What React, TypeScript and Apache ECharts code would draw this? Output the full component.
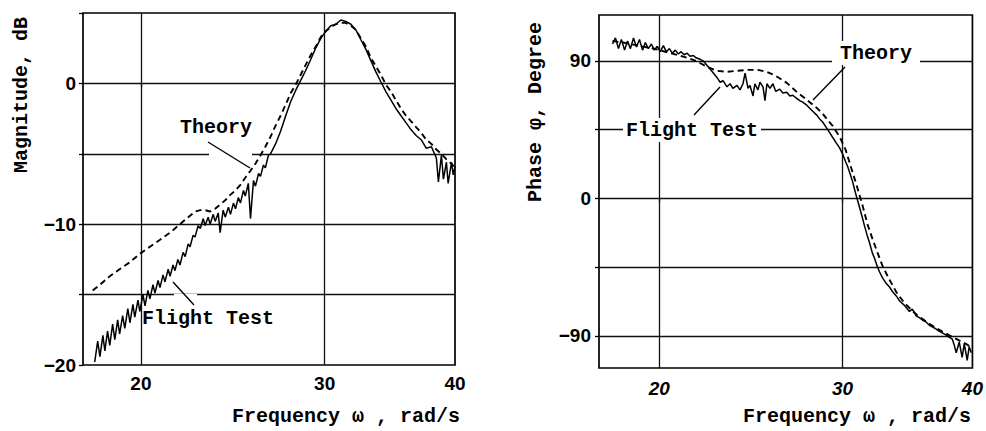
import { useEffect, useRef } from 'react';
import * as echarts from 'echarts';

// Magnitude, flight test record: frequency (rad/s) and gain (dB)
const magTestFreq = [18.06, 18.18, 18.27, 18.39, 18.47, 18.58, 18.67, 18.79, 18.88, 19.0, 19.08, 19.21, 19.3, 19.43, 19.52, 19.65, 19.73, 19.87, 19.95, 20.09, 20.18, 20.31, 20.4, 20.54, 20.63, 20.77, 20.86, 21.0, 21.09, 21.24, 21.33, 21.47, 21.56, 21.7, 21.8, 21.95, 22.05, 22.2, 22.29, 22.44, 22.54, 22.69, 22.8, 22.95, 23.04, 23.2, 23.3, 23.46, 23.56, 23.72, 23.82, 23.98, 24.09, 24.26, 24.37, 24.53, 24.64, 24.8, 24.91, 25.08, 25.18, 25.35, 25.47, 25.64, 25.75, 25.93, 26.04, 26.21, 26.32, 26.5, 26.62, 26.92, 27.22, 27.53, 27.83, 28.14, 28.45, 28.76, 29.09, 29.41, 29.75, 30.07, 30.41, 30.75, 31.09, 31.43, 31.79, 32.14, 32.5, 32.87, 33.23, 33.6, 33.97, 34.35, 34.74, 35.12, 35.51, 35.91, 36.31, 36.71, 37.12, 37.54, 37.97, 38.39, 38.56, 38.82, 38.99, 39.25, 39.4, 39.69, 39.84, 40.0];
const magTestDb = [-19.8, -18.3, -19.4, -17.9, -19.0, -17.6, -18.6, -17.1, -18.2, -16.8, -17.8, -16.5, -17.4, -16.0, -17.0, -15.7, -16.6, -15.4, -16.2, -15.0, -15.8, -14.7, -15.3, -14.3, -14.9, -14.0, -14.5, -13.6, -14.1, -13.2, -13.7, -12.9, -13.3, -12.5, -12.9, -12.0, -12.3, -11.4, -11.6, -10.8, -10.9, -10.1, -10.3, -9.6, -10.1, -9.5, -10.0, -9.3, -9.8, -9.2, -10.6, -9.0, -9.5, -8.8, -9.3, -8.5, -8.9, -8.1, -8.5, -7.6, -8.0, -7.1, -9.6, -6.9, -7.3, -6.4, -6.6, -5.8, -6.0, -5.1, -5.0, -4.3, -3.4, -2.3, -1.3, -0.5, 0.2, 0.9, 1.7, 2.5, 3.2, 3.7, 4.1, 4.2, 4.5, 4.4, 4.2, 3.8, 3.1, 2.4, 1.6, 0.8, 0.1, -0.6, -1.2, -1.8, -2.3, -2.8, -3.3, -3.7, -4.0, -4.6, -4.5, -5.3, -7.0, -5.1, -6.8, -5.6, -7.1, -5.6, -6.5, -5.9];

// Magnitude, theoretical model
const magTheoryFreq = [17.98, 18.27, 18.67, 19.08, 19.52, 19.95, 20.4, 20.86, 21.33, 21.8, 22.2, 22.54, 22.8, 23.04, 23.3, 23.56, 23.82, 24.09, 24.37, 24.64, 24.91, 25.18, 25.47, 25.75, 26.04, 26.32, 26.62, 26.92, 27.22, 27.53, 27.83, 28.14, 28.45, 28.76, 29.09, 29.41, 29.75, 30.07, 30.41, 30.75, 31.09, 31.43, 31.79, 32.14, 32.5, 32.87, 33.23, 33.6, 33.97, 34.35, 34.74, 35.12, 35.51, 35.91, 36.31, 36.71, 37.12, 37.54, 37.97, 38.39, 38.82, 39.25, 39.69, 40.0];
const magTheoryDb = [-14.7, -14.3, -13.7, -13.2, -12.7, -12.1, -11.6, -11.1, -10.6, -10.0, -9.5, -9.1, -9.0, -9.0, -9.1, -8.9, -8.6, -8.3, -7.9, -7.6, -7.2, -6.7, -6.2, -5.7, -5.1, -4.5, -3.8, -3.0, -2.3, -1.5, -0.7, -0.1, 0.6, 1.3, 2.0, 2.6, 3.3, 3.7, 4.0, 4.2, 4.3, 4.3, 4.1, 3.8, 3.2, 2.6, 1.8, 1.2, 0.6, -0.1, -0.6, -1.2, -1.8, -2.3, -2.7, -3.1, -3.5, -4.0, -4.3, -4.7, -5.0, -5.4, -5.7, -6.0];

// Phase, flight test record (degrees)
const phaseTestFreq = [18.03, 18.15, 18.27, 18.39, 18.52, 18.64, 18.76, 18.89, 19.01, 19.14, 19.27, 19.39, 19.52, 19.65, 19.78, 19.91, 20.04, 20.18, 20.31, 20.45, 20.58, 20.72, 20.86, 20.99, 21.13, 21.27, 21.41, 21.56, 21.7, 21.89, 22.04, 22.23, 22.48, 22.73, 22.88, 23.03, 23.23, 23.39, 23.54, 23.75, 23.91, 24.07, 24.18, 24.34, 24.44, 24.61, 24.71, 24.88, 24.99, 25.16, 25.27, 25.38, 25.55, 25.72, 25.88, 26.11, 26.29, 26.52, 26.7, 26.87, 27.11, 27.29, 27.47, 27.72, 27.9, 28.09, 28.34, 28.52, 28.71, 28.97, 29.16, 29.35, 29.61, 29.81, 30.01, 30.21, 30.34, 30.48, 30.68, 30.81, 30.95, 31.16, 31.36, 31.5, 31.71, 31.85, 32.06, 32.2, 32.42, 32.56, 32.78, 33.0, 33.29, 33.51, 33.81, 34.03, 34.41, 34.79, 35.02, 35.33, 35.57, 35.88, 36.12, 36.36, 36.6, 36.92, 37.17, 37.42, 37.75, 38.0, 38.25, 38.42, 38.59, 38.85, 39.1, 39.28, 39.54, 39.71, 39.89];
const phaseTestDeg = [101, 105, 98, 104, 97, 103, 98, 105, 99, 104, 97, 102, 98, 101, 97, 99.5, 96, 100, 96, 98, 95, 97, 94.5, 96, 94, 95, 93, 93.5, 92, 91, 90, 87, 83, 79, 76, 77, 73, 75, 72, 74, 71, 75, 82, 72, 74, 67, 75, 71, 76, 73, 64, 75, 72, 75, 70, 71.5, 69, 69.5, 67, 67.5, 65.5, 64, 63, 61, 59, 57, 54.5, 52, 50, 46, 43, 40, 36, 33, 29, 24, 21, 17, 11, 6, 1, -6, -13, -18, -25, -29, -36, -39, -45, -48, -52, -55, -58, -61, -64, -67, -70, -74, -72.5, -77, -78, -80, -81, -83, -84, -85.5, -87, -88, -89.5, -91, -92, -96, -101, -94, -104, -95, -106, -97, -101];

// Phase, theoretical model
const phaseTheoryFreq = [18.03, 18.52, 19.14, 19.78, 20.45, 21.13, 21.7, 22.23, 22.73, 23.23, 23.75, 24.34, 24.88, 25.38, 25.88, 26.52, 27.11, 27.72, 28.34, 28.71, 28.97, 29.35, 29.81, 30.21, 30.68, 30.95, 31.36, 31.71, 32.06, 32.42, 32.78, 33.29, 33.81, 34.41, 35.33, 36.36, 37.42, 38.42, 39.54, 39.89];
const phaseTheoryDeg = [103, 101.8, 99.8, 97.9, 95.2, 92.6, 90, 86, 83.5, 82.8, 83.5, 84.1, 84.1, 82.8, 80.2, 75.6, 69.7, 64.5, 59.2, 55.5, 52, 47.5, 40.3, 31.8, 17, 8.8, -4.5, -17, -26.5, -35.5, -44.2, -53.3, -61.5, -68.5, -76, -82.1, -87.2, -91.3, -95.7, -97.5];

// Axis ticks, labels and grid lines
const freqLabels = [20, 30, 40];
const freqGrid = [20, 30];
const magGrid = [-15, -10, -5, 0];
const phaseGrid = [-90, -45, 0, 45, 90];
const phaseLabels = [-90, 0, 90];

const MONO = '"Liberation Mono", "DejaVu Sans Mono", monospace';
const SANS = '"Liberation Sans", Arial, sans-serif';
const INK = '#000';

const pairs = (xs: number[], ys: number[]) => xs.map((x, i) => [x, ys[i]]);
const signed = (v: number) => String(v).replace('-', '\u2212');

function freqAxis(gridIndex: number, min: number, italic: boolean) {
  return {
    type: 'log',
    logBase: 10,
    gridIndex,
    min,
    max: 40,
    axisLine: { show: false },
    splitLine: { show: false },
    minorTick: { show: false },
    axisTick: { show: true, customValues: freqGrid, length: 4, lineStyle: { color: INK, width: 1.3 } },
    axisLabel: {
      customValues: freqLabels,
      formatter: (v: number) => String(Math.round(v)),
      fontFamily: SANS,
      fontSize: 19,
      fontWeight: 'bold',
      fontStyle: italic ? 'italic' : 'normal',
      color: INK,
      margin: italic ? 11 : 9,
    },
  };
}

function gridLines(axisIndex: number, yValues: number[]) {
  return {
    type: 'line',
    xAxisIndex: axisIndex,
    yAxisIndex: axisIndex,
    data: [],
    silent: true,
    z: 1,
    markLine: {
      silent: true,
      z: 1,
      symbol: ['none', 'none'],
      label: { show: false },
      emphasis: { disabled: true },
      lineStyle: { color: '#111', width: 1.3, type: 'solid' },
      data: [...freqGrid.map((v) => ({ xAxis: v })), ...yValues.map((v) => ({ yAxis: v }))],
    },
  };
}

function curve(axisIndex: number, data: number[][], dashed: boolean) {
  return {
    type: 'line',
    xAxisIndex: axisIndex,
    yAxisIndex: axisIndex,
    data,
    z: 3,
    silent: true,
    showSymbol: false,
    symbol: 'none',
    lineStyle: dashed
      ? { color: INK, width: 1.9, type: [6, 4] }
      : { color: INK, width: 1.5, type: 'solid' },
  };
}

const titleStyle = { fontFamily: MONO, fontSize: 20, fontWeight: 'bold', fill: INK, align: 'center', verticalAlign: 'middle' };

function label(text: string, x: number, y: number, opts: any = {}) {
  return { type: 'text', x, y, z: 10, silent: true, rotation: opts.rotation || 0, style: { ...titleStyle, text, ...(opts.style || {}) } };
}

function leader(x1: number, y1: number, x2: number, y2: number) {
  return { type: 'line', z: 10, silent: true, shape: { x1, y1, x2, y2 }, style: { stroke: INK, lineWidth: 1.4 } };
}

function gap(x: number, y: number, width: number) {
  return { type: 'rect', z: 2, silent: true, shape: { x, y: y - 2, width, height: 4 }, style: { fill: '#fff' } };
}

const option = {
  animation: false,
  grid: [
    { left: 83, top: 13, width: 372, height: 352, show: true, borderColor: INK, borderWidth: 1.7, backgroundColor: 'transparent' },
    { left: 599, top: 15, width: 374, height: 353, show: true, borderColor: INK, borderWidth: 1.7, backgroundColor: 'transparent' },
  ],
  xAxis: [freqAxis(0, 17.6, false), freqAxis(1, 17.5, true)],
  yAxis: [
    {
      type: 'value',
      gridIndex: 0,
      min: -20,
      max: 5,
      interval: 5,
      axisLine: { show: false },
      splitLine: { show: false },
      axisTick: { show: true, length: 4, lineStyle: { color: INK, width: 1.3 } },
      axisLabel: {
        formatter: (v: number) => (v % 10 === 0 ? signed(v) : ''),
        fontFamily: SANS,
        fontSize: 19,
        fontWeight: 'bold',
        color: INK,
        margin: 7,
      },
    },
    {
      type: 'value',
      gridIndex: 1,
      min: -111,
      max: 120,
      axisLine: { show: false },
      splitLine: { show: false },
      axisTick: { show: true, customValues: phaseGrid, length: 4, lineStyle: { color: INK, width: 1.3 } },
      axisLabel: {
        customValues: phaseLabels,
        formatter: (v: number) => signed(v),
        fontFamily: SANS,
        fontSize: 19,
        fontWeight: 'bold',
        color: INK,
        margin: 8,
      },
    },
  ],
  series: [
    gridLines(0, magGrid),
    gridLines(1, phaseGrid),
    curve(0, pairs(magTestFreq, magTestDb), false),
    curve(0, pairs(magTheoryFreq, magTheoryDb), true),
    curve(1, pairs(phaseTestFreq, phaseTestDeg), false),
    curve(1, pairs(phaseTheoryFreq, phaseTheoryDeg), true),
  ],
  graphic: [
    gap(209, 154, 43),
    gap(174, 296, 23),
    label('Frequency \u03c9 , rad/s', 346, 416),
    label('Frequency \u03c9 , rad/s', 857, 416),
    label('Magnitude, dB', 21, 95, { rotation: Math.PI / 2 }),
    label('Phase \u03c6, Degree', 535, 112, { rotation: Math.PI / 2 }),
    label('Theory', 216, 127),
    leader(208, 142, 250, 168),
    label('Flight Test', 208, 318),
    leader(173, 282, 194, 305),
    label('Theory', 876, 53, { style: { backgroundColor: '#fff', padding: [2, 8] } }),
    leader(845, 67, 813, 100),
    label('Flight Test', 692, 130, { style: { backgroundColor: '#fff', padding: [2, 3] } }),
    leader(694, 115, 720, 87),
  ],
};

export default function App() {
  const ref = useRef<HTMLDivElement>(null);
  useEffect(() => {
    if (!ref.current) return;
    const chart = echarts.init(ref.current, null, { renderer: 'svg' });
    chart.setOption(option as any);
    return () => chart.dispose();
  }, []);
  return (
    <div
      ref={ref}
      style={{ position: 'absolute', left: 0, top: 0, width: 986, height: 431, background: '#fff' }}
    />
  );
}
